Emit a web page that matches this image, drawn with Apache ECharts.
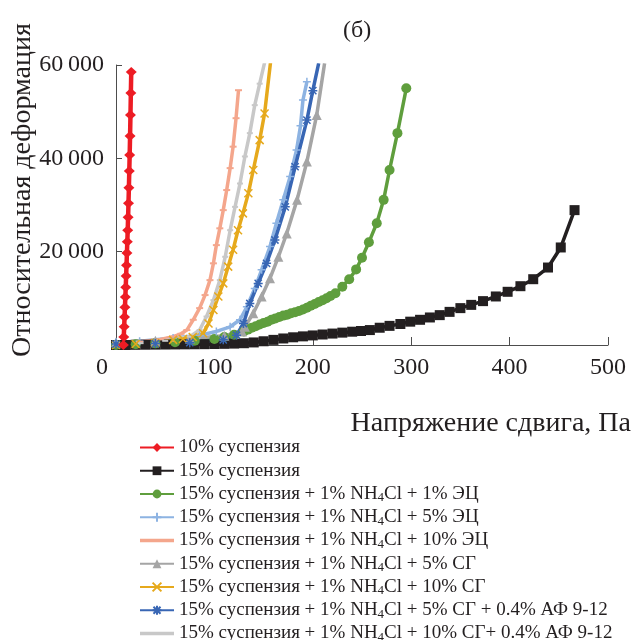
<!DOCTYPE html>
<html>
<head>
<meta charset="utf-8">
<script src="https://cdn.jsdelivr.net/npm/echarts@6/dist/echarts.min.js"></script>
<style>
    html, body { margin: 0; padding: 0; background: #fff; }
    #chart { width: 633px; height: 640px; }
</style>
</head>
<body>
<div id="chart"></div>
<script>
// Series names (legend)
var seriesNames = [
    '10% суспензия',
    '15% суспензия',
    '15% суспензия + 1% NH4Cl + 1% ЭЦ',
    '15% суспензия + 1% NH4Cl + 5% ЭЦ',
    '15% суспензия + 1% NH4Cl + 10% ЭЦ',
    '15% суспензия + 1% NH4Cl + 5% СГ',
    '15% суспензия + 1% NH4Cl + 10% СГ',
    '15% суспензия + 1% NH4Cl + 5% СГ + 0.4% АФ 9-12',
    '15% суспензия + 1% NH4Cl + 10% СГ+ 0.4% АФ 9-12'
];

// [shear stress, relative deformation]
var susp10 = [
    [7.5, 0], [7.9, 1700], [8.3, 3900], [8.7, 6000], [9.1, 8100], [9.5, 10300],
    [9.9, 12400], [10.3, 14800], [10.7, 17100], [11.1, 19700], [11.5, 22100],
    [11.9, 24600], [12.3, 27400], [12.7, 30400], [13.1, 33700], [13.5, 37300],
    [13.9, 40700], [14.3, 44800], [14.7, 49300], [15.1, 54000], [15.5, 58500]
];
var susp15 = [
    [0, 0], [10, 0], [20, 40], [30, 60], [40, 80], [50, 100], [60, 120], [70, 140],
    [80, 160], [90, 180], [100, 210], [110, 250], [120, 300], [130, 380], [140, 550],
    [150, 800], [160, 1100], [170, 1400], [180, 1650], [190, 1850], [200, 2050],
    [210, 2250], [220, 2450], [230, 2650], [240, 2850], [249, 3000], [258, 3200],
    [268, 3700], [278, 4100], [289, 4500], [299, 5000], [309, 5400], [319, 5900],
    [329, 6400], [339, 7100], [350, 7900], [361, 8600], [373, 9400], [386, 10400],
    [398, 11400], [411, 12600], [424, 14100], [439, 16600], [452, 20900], [466, 28900]
];
var ec1 = [
    [0, 0], [20, 150], [40, 350], [60, 600], [80, 900], [100, 1300], [110, 1700],
    [120, 2200], [130, 2900], [134, 3300], [138, 3700], [142, 4000], [146, 4400],
    [150, 4700], [154, 5000], [158, 5400], [162, 5700], [166, 6000], [170, 6300],
    [174, 6500], [178, 6800], [182, 7000], [186, 7300], [190, 7600], [194, 8000],
    [198, 8400], [202, 8800], [206, 9200], [210, 9600], [214, 10000], [218, 10500],
    [223, 11100], [230, 12500], [237, 14100], [244, 16200], [250, 18700], [257, 22000],
    [265, 26100], [272, 31100], [278, 37500], [286, 45400], [295, 55000]
];
var ec5 = [
    [0, 600], [24, 800], [58, 1500], [85, 2100], [102, 2900], [116, 3900], [126, 5400],
    [133, 8200], [141, 12100], [148, 16100], [156.5, 21100], [163, 26100], [170, 31100],
    [177, 36100], [183.5, 41800], [187.5, 47000], [190, 52500], [194, 56400]
];
var ec10 = [
    [0, 360], [24, 700], [45, 1200], [58, 1800], [66, 2400], [72, 3200], [78.5, 5400],
    [85, 7900], [90.5, 10700], [95.5, 13900], [99, 17500], [102, 21400], [105.5, 25000],
    [109, 28900], [112.5, 33200], [116, 37900], [119, 42500], [122, 48600], [124.5, 54600]
];
var sg5 = [
    [0, 600], [40, 900], [75, 1400], [110, 2000], [128, 2900], [131, 3900], [139.5, 6800],
    [148, 10400], [156.5, 14300], [165, 18900], [173.5, 23900], [184, 31100], [194, 39300],
    [204, 49300], [212, 60400]
];
var sg10 = [
    [0, 0], [20, 200], [40, 400], [58, 1100], [68, 1300], [78, 1700], [88.5, 2500],
    [94, 4600], [99, 7500], [104, 10400], [109, 13200], [114, 16800], [119, 20400],
    [124, 24600], [129, 28200], [134.5, 32500], [139.5, 37500], [146, 43900],
    [151, 49600], [157, 60500]
];
var sg5af = [
    [0, 200], [40, 300], [75, 500], [109, 1100], [122.5, 2100], [129.5, 4600], [136, 8900],
    [144.5, 13200], [153, 17500], [161.5, 22500], [172, 29600], [182, 38200], [194, 48200],
    [200, 54500], [206, 60400]
];
var sg10af = [
    [0, 100], [25, 400], [50, 900], [75, 1800], [85, 3200], [92, 6100], [99, 9600],
    [105.5, 13900], [111, 18900], [116, 24600], [121, 29600], [126, 34600], [131, 40400],
    [136, 45400], [141, 51400], [146, 56000], [151, 60500]
];

var colors = ['#ED1C24', '#231F20', '#5F9E3D', '#8DB3E2', '#F4A68C',
    '#A5A5A5', '#E6A91C', '#3866B4', '#C8C8C8'];

var xMin = 0, xMax = 500, xStep = 100;
var yMin = 0, yMax = 60000, yStep = 20000;

var SERIF = 'Liberation Serif, Times New Roman, serif';

var plusPath = 'path://M5,0L5,10M0,5L10,5';
var crossPath = 'path://M0,0L10,10M10,0L0,10';
var starPath = 'path://M5,0L5,10M1,1L9,9M9,1L1,9M0,5L10,5';
var barIcon = 'path://M0,0L34,0L34,3.5L0,3.5Z';

function makeSeries(i, data, symbol, size, width, stroke) {
    var s = {
        name: seriesNames[i],
        type: 'line',
        data: data,
        symbol: symbol,
        symbolSize: size,
        showAllSymbol: true,
        clip: true,
        lineStyle: { color: colors[i], width: width },
        itemStyle: { color: colors[i] }
    };
    if (stroke) {
        s.itemStyle.borderColor = colors[i];
        s.itemStyle.borderWidth = 1.5;
    }
    return s;
}

// Legend entries; plain line icon for the two series without a visible marker
var legendData = seriesNames.map(function (name, i) {
    return (i === 4 || i === 8) ? { name: name, icon: barIcon } : { name: name };
});

var chart = echarts.init(document.getElementById('chart'));

chart.setOption({
    animation: false,
    color: colors,
    textStyle: { fontFamily: SERIF },

    title: {
        text: '(б)',
        left: 338,
        top: 14,
        textStyle: { fontFamily: SERIF, fontSize: 24, fontWeight: 'normal', color: '#231F20' }
    },

    grid: { left: 116, right: 25, top: 65, bottom: 295, outerBoundsMode: 'none', containLabel: false },

    legend: {
        orient: 'vertical',
        left: 139,
        top: 436,
        height: 230,
        padding: 0,
        itemWidth: 34,
        itemHeight: 11,
        itemGap: 0.25,
        data: legendData,
        formatter: function (name) {
            return name.replace('NH4Cl', 'NH{sub|4}Cl');
        },
        textStyle: {
            fontFamily: SERIF,
            fontSize: 19,
            lineHeight: 23,
            color: '#231F20',
            rich: {
                sub: { fontFamily: SERIF, fontSize: 13, lineHeight: 13, padding: [8, 0, 0, 0], color: '#231F20' }
            }
        }
    },

    xAxis: {
        type: 'value',
        min: xMin,
        max: xMax,
        interval: xStep,
        name: 'Напряжение сдвига, Па',
        nameLocation: 'end',
        nameGap: 23,
        nameMoveOverlap: false,
        nameTextStyle: {
            fontFamily: SERIF, fontSize: 28, color: '#231F20',
            align: 'right', verticalAlign: 'top', padding: [65, 0, 0, 0]
        },
        axisLine: { lineStyle: { color: '#4D4D4D', width: 1 } },
        axisTick: { inside: true, length: 8, lineStyle: { color: '#4D4D4D' } },
        splitLine: { show: false },
        axisLabel: {
            margin: 11,
            fontFamily: SERIF,
            fontSize: 24,
            color: '#231F20',
            formatter: function (v) { return v === 0 ? '{z|0}' : String(v); },
            rich: { z: { fontFamily: SERIF, fontSize: 24, color: '#231F20', padding: [0, 28, 0, 0] } }
        }
    },

    yAxis: {
        type: 'value',
        min: yMin,
        max: yMax,
        interval: yStep,
        name: 'Относительная деформация',
        nameLocation: 'middle',
        nameGap: 79,
        nameMoveOverlap: false,
        nameTextStyle: { fontFamily: SERIF, fontSize: 28, color: '#231F20', padding: [0, 0, 0, 30] },
        axisLine: { show: true, lineStyle: { color: '#4D4D4D', width: 1 } },
        axisTick: { show: true, inside: true, length: 6, lineStyle: { color: '#4D4D4D' } },
        splitLine: { show: false },
        axisLabel: {
            margin: 12,
            fontFamily: SERIF,
            fontSize: 24,
            color: '#231F20',
            formatter: function (v) {
                if (v === 0) return '';
                var s = String(v);
                return s.slice(0, s.length - 3) + '\u2009' + s.slice(-3);
            }
        }
    },

    series: [
        makeSeries(1, susp15, 'rect', 10, 3.5),
        makeSeries(2, ec1, 'circle', 10, 3.5),
        makeSeries(5, sg5, 'triangle', 10, 3.5),
        makeSeries(3, ec5, plusPath, 8, 3.5, true),
        makeSeries(4, ec10, 'rect', [7, 2], 3.5),
        makeSeries(8, sg10af, 'rect', [6, 2], 3.5),
        makeSeries(6, sg10, crossPath, 8, 3.5, true),
        makeSeries(7, sg5af, starPath, 9, 3.5, true),
        makeSeries(0, susp10, 'diamond', [11, 10], 4.5)
    ]
});
</script>
</body>
</html>
